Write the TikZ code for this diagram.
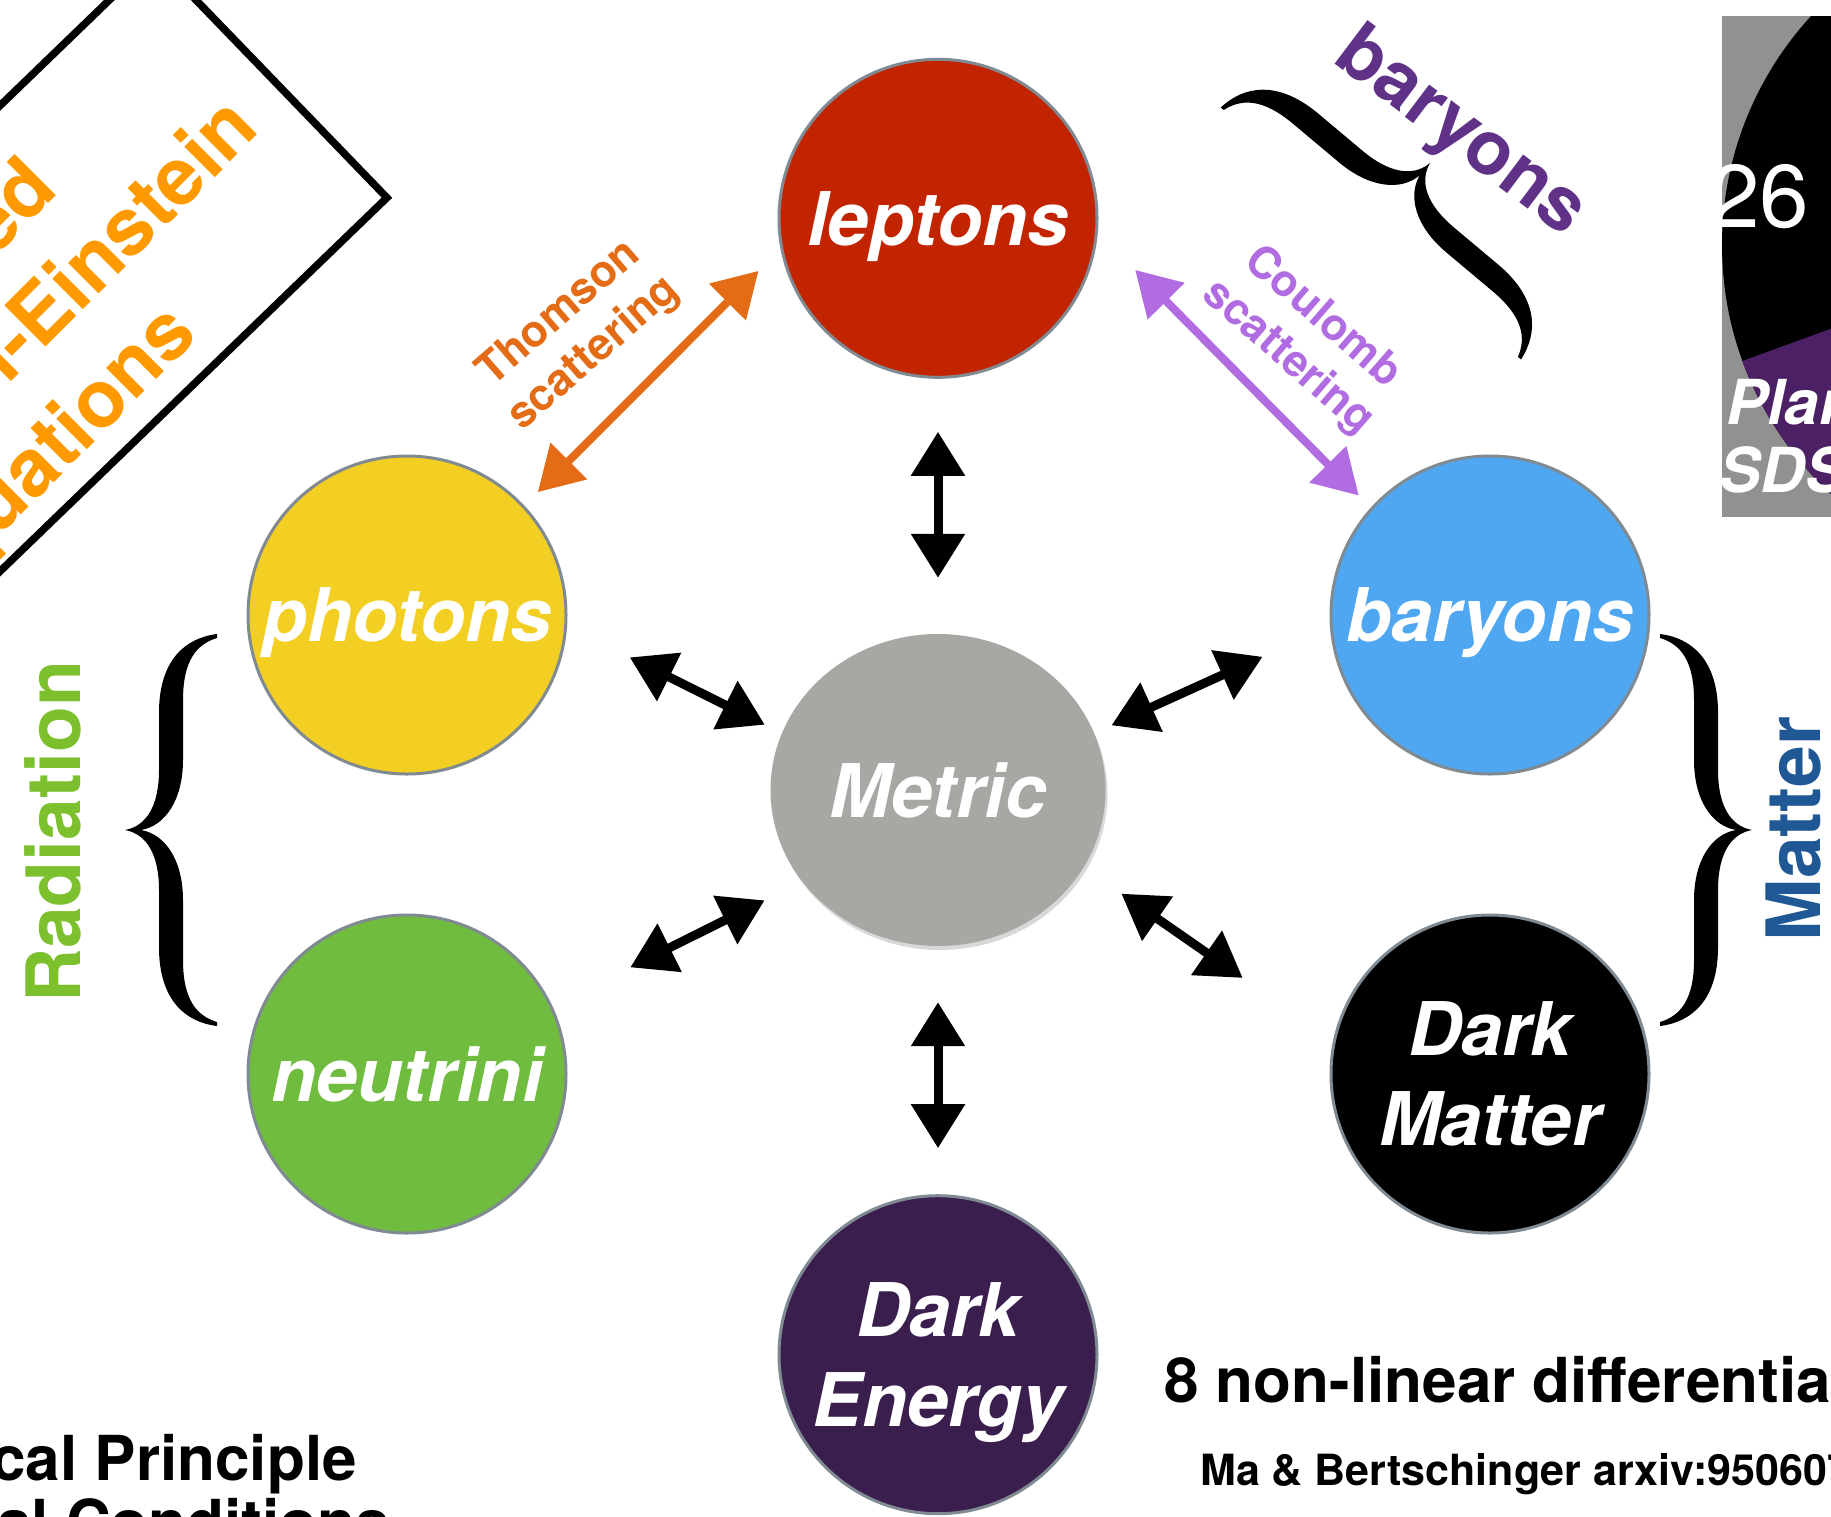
\documentclass[tikz,border=0pt]{standalone}
\usepackage{fontspec}
\setmainfont{TeX Gyre Heros}
\usetikzlibrary{arrows.meta, positioning, shapes.geometric, shadows}
\definecolor{leptonred}{RGB}{195,36,0}
\definecolor{photonyellow}{RGB}{242,207,34}
\definecolor{baryonblue}{RGB}{79,167,242}
\definecolor{metricgray}{RGB}{165,168,163}
\definecolor{neutrinogreen}{RGB}{112,188,62}
\definecolor{energypurple}{RGB}{58,30,78}
\definecolor{ringgray}{RGB}{128,138,146}
\definecolor{eqorange}{RGB}{255,153,0}
\definecolor{thomsonorange}{RGB}{228,108,22}
\definecolor{coulombviolet}{RGB}{178,108,226}
\definecolor{baryonlabel}{RGB}{95,50,135}
\definecolor{radgreen}{RGB}{125,192,45}
\definecolor{matterblue}{RGB}{31,88,148}
\definecolor{panelgray}{RGB}{145,145,145}
\definecolor{piepurple}{RGB}{76,32,100}

\begin{document}
\begin{tikzpicture}[x=1pt, y=1pt,
  ball/.style={circle, draw=ringgray, line width=3pt, minimum size=318pt, inner sep=0pt,
               text=white, text depth=0pt, align=center,
               font=\fontsize{74}{90}\selectfont\bfseries\itshape},
  twoway/.style={{Triangle[length=44pt,width=52pt]}-{Triangle[length=44pt,width=52pt]},
                 line width=9pt, black},
  scatarrow/.style={{Triangle[length=44pt,width=50pt]}-{Triangle[length=44pt,width=50pt]},
                    line width=8pt},
  scatlabel/.style={font=\fontsize{44}{53}\selectfont\bfseries, align=center, inner sep=0pt},
  grouplabel/.style={font=\fontsize{75}{80}\selectfont\bfseries, inner sep=0pt},
  eqtext/.style={font=\fontsize{80}{90}\selectfont\bfseries, text=eqorange, inner sep=0pt,
                 rotate=45, anchor=base east},
  foot/.style={font=\fontsize{62}{64}\selectfont\bfseries, inner sep=0pt},
  pietext/.style={anchor=base west, inner sep=0pt, text=white,
                  font=\fontsize{62}{64}\selectfont\bfseries\itshape},
  curly/.pic={
    \fill (0,0) .. controls (22,4) and (34,25) .. (34,60) -- (34,120)
      .. controls (35,170) and (60,192) .. (92,196) -- (92,192)
      .. controls (72,186) and (58,170) .. (58,130) -- (58,70)
      .. controls (58,30) and (40,4) .. (16,0)
      .. controls (40,-4) and (58,-30) .. (58,-70) -- (58,-130)
      .. controls (58,-170) and (72,-186) .. (92,-192) -- (92,-196)
      .. controls (60,-192) and (35,-170) .. (34,-120) -- (34,-60)
      .. controls (34,-25) and (22,-4) .. (0,0) -- cycle;
  },
]
  \useasboundingbox (0,0) rectangle (1831,-1516);
  \clip (0,0) rectangle (1831,-1516);
  \fill[white] (0,0) rectangle (1831,-1516);

  \begin{scope}[rotate=44]
    \draw[line width=7.5pt] (-1000,-411) rectangle (141,-76);
    \node[eqtext] (eqtop) at (-90,-180) {Coupled};
    \node[eqtext] (eqmid) at (97,-276) {Boltzmann-Einstein};
    \node[eqtext] (eqbot) at (-90,-381) {Equations};
  \end{scope}

  \begin{scope}
    \clip (1722,-16) rectangle (1831,-517);
    \fill[panelgray] (1722,-16) rectangle (1831,-517);
    \fill[black] (2061,-245) circle[radius=339pt];
    \fill[piepurple] (2061,-245) -- ++(200:339pt) arc[start angle=200, end angle=300, radius=339pt] -- cycle;
    \node[anchor=base west, inner sep=0pt, text=white, font=\fontsize{89}{90}\selectfont] (share) at (1710,-227) {26};
    \node[pietext] (planck) at (1726,-424) {Planck};
    \node[pietext] (sdss) at (1719,-492) {SDSS};
  \end{scope}

  \node[ellipse, fill=metricgray, minimum width=335pt, minimum height=312pt, inner sep=0pt,
        text=white, text depth=0pt, font=\fontsize{74}{90}\selectfont\bfseries\itshape,
        drop shadow={opacity=0.3, shadow xshift=2pt, shadow yshift=-4pt}] (metric) at (938,-790) {Metric};
  \node[ball, fill=leptonred, above=255pt of metric] (leptons) {leptons};
  \node[ball, fill=photonyellow] (photons) at (407,-615) {photons};
  \node[ball, fill=baryonblue] (baryons) at (1490,-615) {baryons};
  \node[ball, fill=neutrinogreen, below=138pt of photons] (neutrini) {neutrini};
  \node[ball, fill=black, below=138pt of baryons] (darkmatter) {Dark\\Matter};
  \node[ball, fill=energypurple, below=248pt of metric] (darkenergy) {Dark\\Energy};

  \draw[twoway, shorten <=53pt, shorten >=56pt] (leptons) -- (metric);
  \draw[twoway, shorten <=56pt, shorten >=46pt] (metric) -- (darkenergy);
  \draw[twoway, shorten <=70pt, shorten >=19pt] (photons.-4) -- (metric.160);
  \draw[twoway, shorten <=74pt, shorten >=19pt] (baryons.184) -- (metric.20);
  \draw[twoway, shorten <=87pt, shorten >=42pt] (neutrini.25) -- (metric.214);
  \draw[twoway, shorten <=110pt, shorten >=46pt] (darkmatter.168) -- (metric.-28);

  \draw[scatarrow, thomsonorange, shorten <=19pt, shorten >=31pt] (photons.43) -- (leptons.191);
  \draw[scatarrow, coulombviolet, shorten <=53pt, shorten >=17pt] (leptons.-5) -- (baryons.138);
  \node[scatlabel, text=thomsonorange, rotate=41] (thomson) at (577,-334) {Thomson\\scattering};
  \node[scatlabel, text=coulombviolet, rotate=-41] (coulomb) at (1305,-338) {Coulomb\\scattering};

  \pic (radbrace) at (125,-830) {curly};
  \pic[rotate=180] (matbrace) at (1752,-830) {curly};
  \pic[rotate=-130] (barbrace) at (1430,-163) {curly};
  \node[grouplabel, text=radgreen, rotate=90] (radiation) at (53,-832) {Radiation};
  \node[grouplabel, text=matterblue, rotate=90] (matter) at (1793,-829) {Matter};
  \node[grouplabel, text=baryonlabel, rotate=-37] (baryongroup) at (1460,-134) {baryons};

  \node[foot, anchor=base east] (cosmo) at (357,-1480) {Cosmological Principle};
  \node[foot, anchor=base east] (initial) at (390,-1544) {Initial Conditions};
  \node[foot, anchor=base west] (eqcount) at (1164,-1402) {8 non-linear differential equations};
  \node[anchor=base west, inner sep=0pt, font=\fontsize{43}{45}\selectfont\bfseries] (mabert) at (1200,-1485) {Ma \& Bertschinger arxiv:9506072};
\end{tikzpicture}
\end{document}
